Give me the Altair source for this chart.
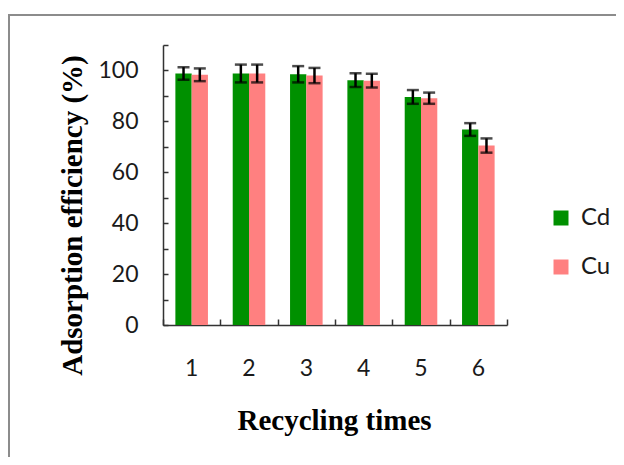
import altair as alt
import pandas as pd

cycles = ["1", "2", "3", "4", "5", "6"]
metals = ["Cd", "Cu"]
colors = ["#009000", "#FF8080"]
cd_values = [98.8, 98.8, 98.5, 96.2, 89.6, 76.8]
cu_values = [98.3, 98.8, 98.0, 96.0, 89.1, 70.5]
cd_err = [2.5, 3.5, 3.2, 2.7, 2.7, 2.5]
cu_err = [2.5, 3.5, 3.0, 2.7, 2.2, 2.8]
y_tick_values = [0, 10, 20, 30, 40, 50, 60, 70, 80, 90, 100, 110]
y_label_values = [0, 20, 40, 60, 80, 100]

rows = []
for i, c in enumerate(cycles):
    rows.append(dict(cycle=c, metal="Cd", value=cd_values[i], err=cd_err[i]))
    rows.append(dict(cycle=c, metal="Cu", value=cu_values[i], err=cu_err[i]))
df = pd.DataFrame(rows)

label_font = "Lato"
title_font = "Liberation Serif"
axis_color = "#333333"
text_color = "#1a1a1a"

x_scale = alt.Scale(paddingInner=0, paddingOuter=0)
xo_scale = alt.Scale(paddingInner=0, paddingOuter=0.76)
y_scale = alt.Scale(domain=[0, 110], nice=False, zero=True)

base = alt.Chart(df).transform_calculate(
    lo="datum.value - datum.err", hi="datum.value + datum.err"
)

one = alt.Data(values=[{"a": 1}])
frame_top = alt.Chart(one).mark_rule(color="#8c8c8c", strokeWidth=2).encode(
    x=alt.value(-155), x2=alt.value(453), y=alt.value(-30)
)
frame_left = alt.Chart(one).mark_rule(color="#8c8c8c", strokeWidth=2).encode(
    x=alt.value(-154), y=alt.value(-31), y2=alt.value(412)
)

bars = base.mark_bar().encode(
    x=alt.X(
        "cycle:N", scale=x_scale, sort=cycles,
        axis=alt.Axis(
            orient="bottom", title="Recycling times", ticks=False, tickSize=0,
            labelPadding=32, labelAngle=0, labelFont=label_font, labelFontSize=23,
            labelColor=text_color, domainColor=axis_color, domainWidth=1.5, grid=False,
            titleFont=title_font, titleFontSize=29, titleFontWeight="bold",
            titleColor="black", titleX=171, titleY=104, titleBaseline="alphabetic",
            titleAlign="center",
        ),
    ),
    xOffset=alt.XOffset("metal:N", scale=xo_scale, sort=metals),
    y=alt.Y(
        "value:Q", scale=y_scale,
        axis=alt.Axis(
            orient="left", values=y_label_values, ticks=False, tickSize=0,
            labelPadding=25, labelFont=label_font, labelFontSize=23,
            labelColor=text_color, domainColor=axis_color, domainWidth=1.5, grid=False,
            title="Adsorption efficiency (%)", titleFont=title_font, titleFontSize=29,
            titleFontWeight="bold", titleColor="black", titleAngle=270,
            titleX=-82, titleY=170, titleBaseline="alphabetic", titleAlign="center",
        ),
    ),
    color=alt.Color(
        "metal:N", scale=alt.Scale(domain=metals, range=colors),
        legend=alt.Legend(
            orient="none", legendX=386, legendY=161, direction="vertical", title=None,
            symbolType="square", symbolSize=225, symbolStrokeWidth=0,
            labelFont=label_font, labelFontSize=24, labelColor=text_color,
            labelOffset=8, rowPadding=25, padding=0,
        ),
    ),
)

rules = base.mark_rule(color="black", strokeWidth=2.5).encode(
    x=alt.X(
        "cycle:N", scale=x_scale, sort=cycles,
        axis=alt.Axis(
            orient="bottom", title=None, labels=False, domain=False, ticks=True,
            tickSize=6, offset=-6, tickBand="extent", tickColor=axis_color,
            tickWidth=1.5, grid=False,
        ),
    ),
    xOffset=alt.XOffset("metal:N", scale=xo_scale, sort=metals),
    y=alt.Y(
        "lo:Q", scale=y_scale,
        axis=alt.Axis(
            orient="left", title=None, labels=False, domain=False, ticks=True,
            tickSize=5, offset=-5, values=y_tick_values, tickColor=axis_color,
            tickWidth=1.5, grid=False,
        ),
    ),
    y2="hi:Q",
)

cap_lo = base.mark_tick(color="black", thickness=2.5, size=12).encode(
    x=alt.X("cycle:N", scale=x_scale, sort=cycles, axis=None),
    xOffset=alt.XOffset("metal:N", scale=xo_scale, sort=metals),
    y=alt.Y("lo:Q", scale=y_scale, axis=None),
)
cap_hi = base.mark_tick(color="black", thickness=2.5, size=12).encode(
    x=alt.X("cycle:N", scale=x_scale, sort=cycles, axis=None),
    xOffset=alt.XOffset("metal:N", scale=xo_scale, sort=metals),
    y=alt.Y("hi:Q", scale=y_scale, axis=None),
)

chart = alt.layer(frame_top, frame_left, bars, rules, cap_lo, cap_hi).resolve_axis(
    x="independent", y="independent"
).properties(
    width=344, height=280,
    autosize=alt.AutoSizeParams(type="none"),
    padding={"left": 155, "top": 37, "right": 109, "bottom": 132},
).configure_view(stroke=None).configure_axis(grid=False)

chart.save("out.html", embed_options={"renderer": "svg", "actions": False})
